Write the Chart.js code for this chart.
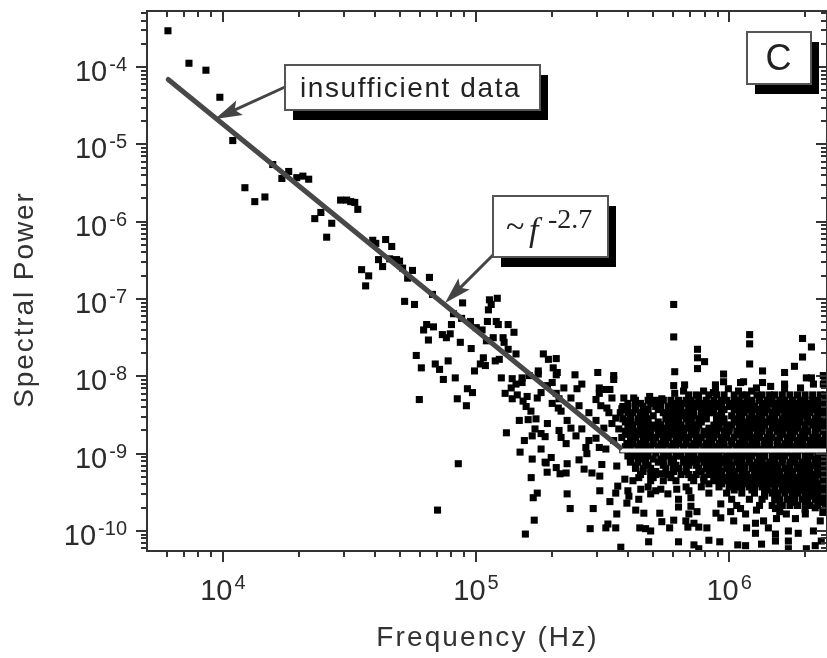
<!DOCTYPE html>
<html><head><meta charset="utf-8">
<style>html,body{margin:0;padding:0;background:#fff;overflow:hidden}canvas{display:block;filter:blur(0.4px)}</style>
<script src="https://cdn.jsdelivr.net/npm/chart.js@4"></script></head>
<body><canvas id="c" width="827" height="658"></canvas>
<script>
// All values are log10(frequency in Hz), log10(spectral power).
const slopeRegion=[[3.783,-3.53],[3.866,-3.95],[3.933,-4.04],[3.988,-4.39],[4.039,-4.95],[4.197,-5.26],[4.260,-5.35],[4.233,-5.44],[4.292,-5.43],[4.316,-5.41],[4.339,-5.45],[4.087,-5.56],[4.166,-5.68],[4.126,-5.74],[4.465,-5.72],[4.489,-5.72],[4.505,-5.74],[4.521,-5.75],[4.533,-5.84],[4.387,-5.88],[4.363,-5.96],[4.430,-6.02],[4.410,-6.20],[4.643,-6.23],[4.592,-6.24],[4.604,-6.28],[4.667,-6.32],[4.615,-6.49],[4.631,-6.58],[4.659,-6.48],[4.686,-6.49],[4.698,-6.51],[4.710,-6.60],[4.749,-6.63],[4.548,-6.62],[4.576,-6.70],[4.564,-6.83],[4.730,-6.73],[4.816,-6.72],[4.828,-6.94],[4.718,-7.03],[4.757,-7.07],[4.947,-7.05],[5.053,-7.01],[5.084,-6.99],[5.060,-7.07],[5.049,-7.14],[4.805,-7.33],[4.832,-7.36],[4.793,-7.40],[4.903,-7.33],[4.911,-7.19],[4.943,-7.25],[4.978,-7.29],[5.045,-7.29],[5.080,-7.29],[5.088,-7.33],[5.127,-7.33],[5.001,-7.37],[5.024,-7.40],[5.150,-7.43],[4.867,-7.46],[4.898,-7.45],[4.883,-7.50],[4.812,-7.53],[4.938,-7.56],[5.068,-7.50],[5.107,-7.50],[5.111,-7.56],[5.041,-7.54],[4.981,-7.64],[5.127,-7.65],[5.158,-7.71],[4.764,-7.73],[5.029,-7.76],[4.890,-7.80],[4.839,-7.84],[5.092,-7.78],[5.076,-7.80],[5.017,-7.84],[5.037,-7.86],[4.784,-7.89],[4.856,-7.91],[4.994,-7.93],[5.266,-7.71],[5.286,-7.78],[5.317,-7.77],[5.246,-7.93],[5.305,-7.89],[5.321,-7.95],[5.100,-8.02],[4.871,-8.04],[4.918,-8.02],[5.143,-8.03],[5.182,-8.02],[5.210,-7.99],[5.182,-8.08],[5.158,-8.10],[5.139,-8.15],[4.966,-8.16],[4.986,-8.21],[5.115,-8.22],[5.163,-8.24],[5.202,-8.26],[5.257,-8.21],[5.242,-8.28],[5.301,-8.08],[5.282,-8.12],[5.317,-8.22],[5.143,-8.29],[5.186,-8.32],[4.776,-8.30],[4.926,-8.29],[4.962,-8.38],[5.198,-8.39],[5.217,-8.45],[5.301,-8.35],[5.325,-8.41],[5.171,-8.57],[5.206,-8.56],[5.237,-8.55],[5.282,-8.61],[5.233,-8.68]];
const upperOutliers=[[5.781,-7.07],[5.781,-7.49],[5.875,-7.65],[5.875,-7.76],[5.903,-7.81],[5.875,-7.90],[5.785,-7.94],[6.081,-7.46],[6.081,-7.58],[6.081,-7.84],[6.132,-7.93],[6.290,-7.51],[6.325,-7.62],[6.290,-7.75],[6.258,-7.87],[6.219,-7.95],[6.372,-7.99],[5.978,-7.97],[5.978,-8.07],[6.219,-8.10],[6.219,-8.16],[6.057,-8.07],[6.045,-8.08],[6.132,-8.08],[6.164,-8.13],[6.108,-8.15],[6.305,-8.02],[6.325,-8.02],[5.946,-8.11],[5.946,-8.16],[5.824,-8.11],[5.820,-8.19],[5.781,-8.12],[5.785,-8.22],[5.481,-7.95],[5.544,-7.99],[5.544,-8.04],[5.391,-7.98],[5.246,-7.97],[5.317,-7.98],[5.418,-8.10],[5.399,-8.16],[5.347,-8.15],[5.487,-8.15],[5.513,-8.17],[5.529,-8.17],[5.487,-8.22],[5.537,-8.28],[5.474,-8.30],[5.584,-8.28],[5.623,-8.28],[5.686,-8.26],[5.734,-8.29],[5.899,-8.19],[5.879,-8.25],[5.938,-8.21],[5.997,-8.16],[6.037,-8.19],[6.089,-8.19],[6.282,-8.15],[6.333,-8.10],[6.372,-8.10]];
const transition=[[5.120,-8.73],[5.222,-8.77],[5.257,-8.74],[5.273,-8.78],[5.191,-8.83],[5.174,-8.98],[5.257,-8.94],[5.222,-9.07],[5.297,-9.05],[5.273,-9.11],[5.317,-9.18],[5.281,-9.24],[5.360,-9.13],[5.356,-9.25],[5.332,-9.26],[5.218,-9.31],[5.407,-9.08],[5.427,-9.20],[5.458,-9.25],[5.489,-9.29],[5.497,-9.14],[5.438,-9.00],[5.556,-9.16],[5.588,-9.33],[5.643,-9.31],[5.690,-9.27],[5.733,-9.26],[5.336,-8.79],[5.356,-8.87],[5.328,-8.70],[5.360,-8.57],[5.375,-8.67],[5.395,-8.77],[5.418,-8.68],[5.446,-8.83],[5.434,-8.92],[5.474,-8.80],[5.487,-8.92],[5.513,-8.94],[5.505,-8.67],[5.474,-8.57],[5.446,-8.47],[5.407,-8.38],[5.375,-8.28],[5.328,-8.29],[5.336,-8.45],[5.525,-8.47],[5.493,-8.38],[5.517,-8.41],[5.537,-8.61],[5.552,-8.54],[5.576,-8.42],[5.596,-8.57],[5.564,-8.68],[5.576,-8.79],[5.596,-8.87],[5.544,-8.83]];
const lowerPoints=[[4.930,-9.13],[4.848,-9.73],[5.277,-9.12],[5.242,-9.51],[5.226,-9.57],[5.230,-9.86],[5.195,-10.04],[5.360,-9.52],[5.372,-9.71],[5.463,-9.71],[5.451,-9.97],[5.513,-9.96],[5.521,-9.91],[5.552,-9.96],[5.556,-9.78],[5.529,-9.62],[5.489,-9.48],[5.552,-9.51],[5.560,-9.42],[5.572,-10.21],[5.647,-9.96],[5.670,-9.97],[5.690,-10.00],[5.682,-10.14],[5.800,-10.14],[5.765,-9.96],[5.734,-9.88],[5.726,-9.77],[5.663,-9.77],[5.631,-9.73],[5.596,-9.64],[5.604,-9.55],[5.643,-9.59],[5.600,-9.48],[5.651,-9.46],[5.690,-9.52],[5.710,-9.48],[5.730,-9.46],[5.758,-9.52],[5.793,-9.46],[5.841,-9.48],[5.849,-9.57],[5.800,-9.59],[5.800,-9.69],[5.849,-9.68],[5.873,-9.75],[5.841,-9.78],[5.781,-9.86],[5.829,-9.87],[5.861,-9.90],[5.837,-9.95],[5.880,-9.95],[5.912,-9.96],[5.861,-10.18],[5.880,-10.23],[5.920,-10.12],[5.963,-10.14],[6.034,-10.18],[6.065,-10.19],[6.128,-10.17],[6.183,-10.13],[6.069,-9.96],[6.018,-9.87],[5.967,-9.83],[5.948,-9.77],[5.967,-9.65],[6.006,-9.75],[6.045,-9.71],[6.065,-9.78],[6.108,-9.73],[6.104,-9.90],[6.136,-9.87],[6.104,-10.03],[6.155,-9.96],[6.183,-10.04],[6.234,-10.00],[6.273,-10.03],[6.234,-10.13],[6.234,-10.23],[6.305,-10.23],[6.340,-10.19],[6.364,-10.13],[6.333,-10.00],[6.360,-9.87],[6.183,-9.71],[6.187,-9.84],[6.226,-9.78],[6.262,-9.84],[6.301,-9.78],[6.340,-9.70],[6.20,-9.75],[6.30,-9.72],[6.37,-9.76]];
// Dense cloud: power per row and the frequencies visible in that row.
const denseRowPower=[-8.24,-8.31,-8.39,-8.47,-8.55,-8.63,-8.71,-8.79,-8.87,-8.95,-9.03,-9.11,-9.19,-9.27,-9.35,-9.43,-9.51,-9.59,-9.67];
const denseRowFreq=[
[5.84,5.87,5.92,5.95,5.98,6.02,6.05,6.07,6.11,6.13,6.16,6.18,6.21,6.24,6.27,6.30,6.33,6.36,6.38],
[5.63,5.68,5.71,5.74,5.77,5.80,5.83,5.85,5.88,5.91,5.94,5.97,5.99,6.02,6.04,6.07,6.09,6.12,6.15,6.17,6.20,6.22,6.25,6.28,6.30,6.33,6.35,6.38],
[5.58,5.60,5.63,5.66,5.71,5.73,5.76,5.79,5.81,5.84,5.87,5.89,5.92,5.95,5.97,6.00,6.03,6.05,6.08,6.10,6.13,6.15,6.18,6.21,6.23,6.26,6.29,6.31,6.34,6.36,6.39],
[5.57,5.60,5.62,5.65,5.67,5.74,5.76,5.79,5.82,5.84,5.86,5.89,5.92,5.94,5.97,6.04,6.06,6.09,6.12,6.14,6.17,6.19,6.22,6.24,6.27,6.30,6.32,6.35,6.37],
[5.58,5.61,5.64,5.66,5.68,5.75,5.78,5.80,5.83,5.85,5.88,5.91,5.95,5.98,6.03,6.05,6.08,6.10,6.13,6.16,6.18,6.21,6.23,6.26,6.28,6.31,6.34,6.36,6.39],
[5.60,5.62,5.65,5.68,5.70,5.73,5.76,5.78,5.81,5.84,5.86,5.88,5.94,5.96,5.99,6.01,6.04,6.07,6.09,6.12,6.14,6.17,6.20,6.22,6.25,6.27,6.30,6.33,6.35,6.38],
[5.59,5.62,5.64,5.67,5.69,5.72,5.75,5.77,5.80,5.82,5.85,5.87,5.90,5.93,5.95,5.98,6.00,6.03,6.06,6.08,6.11,6.13,6.16,6.19,6.21,6.24,6.26,6.29,6.31,6.34,6.37,6.39],
[5.61,5.63,5.66,5.69,5.71,5.74,5.76,5.79,5.81,5.84,5.87,5.89,5.92,5.94,5.97,5.99,6.02,6.05,6.07,6.10,6.12,6.15,6.17,6.20,6.23,6.25,6.28,6.30,6.33,6.35,6.38],
[5.60,5.62,5.65,5.67,5.70,5.73,5.75,5.78,5.80,5.83,5.86,5.88,5.91,5.93,5.96,5.98,6.01,6.04,6.06,6.09,6.11,6.14,6.16,6.19,6.22,6.24,6.27,6.29,6.32,6.34,6.37,6.39],
[5.58,5.61,5.64,5.66,5.69,5.72,5.74,5.77,5.79,5.82,5.85,5.87,5.90,5.92,5.95,5.97,6.00,6.03,6.05,6.08,6.10,6.13,6.15,6.18,6.21,6.23,6.26,6.28,6.31,6.33,6.36,6.38],
[5.60,5.63,5.65,5.68,5.74,5.76,5.79,5.81,5.84,5.86,5.89,5.91,5.94,5.96,5.99,6.02,6.04,6.07,6.09,6.12,6.14,6.17,6.20,6.22,6.25,6.27,6.30,6.32,6.35,6.37],
[5.61,5.64,5.67,5.72,5.74,5.77,5.82,5.85,5.87,5.90,5.93,5.95,5.98,6.00,6.03,6.05,6.08,6.11,6.13,6.16,6.18,6.21,6.24,6.26,6.29,6.31,6.34,6.36,6.39],
[5.63,5.66,5.69,5.75,5.78,5.80,5.83,5.88,5.91,5.94,5.96,5.99,6.01,6.04,6.06,6.09,6.12,6.14,6.17,6.19,6.22,6.24,6.27,6.30,6.32,6.35,6.37],
[5.65,5.71,5.76,5.81,5.84,5.87,5.92,5.95,5.97,6.00,6.02,6.05,6.07,6.10,6.13,6.15,6.18,6.20,6.23,6.25,6.28,6.31,6.33,6.36,6.38],
[5.62,5.69,5.74,5.79,5.86,5.90,5.94,5.96,5.99,6.01,6.04,6.06,6.09,6.11,6.14,6.16,6.19,6.22,6.24,6.27,6.29,6.32,6.34,6.37,6.39],
[5.68,5.83,5.89,5.96,6.00,6.03,6.05,6.08,6.10,6.13,6.15,6.18,6.21,6.23,6.26,6.28,6.31,6.33,6.36,6.38],
[5.92,5.99,6.05,6.10,6.14,6.17,6.19,6.22,6.25,6.27,6.30,6.32,6.35,6.37],
[6.01,6.08,6.13,6.18,6.20,6.23,6.26,6.29,6.31,6.34,6.36,6.39],
[6.03,6.12,6.17,6.21,6.24,6.27,6.32,6.35,6.38]];
const fillRowPower=[-8.35,-8.43,-8.51,-8.59,-8.67,-8.75,-8.83,-8.91,-8.99,-9.07,-9.15,-9.23,-9.31,-9.39,-9.47,-9.55,-9.63];
const fillRowFreq=[
[5.60,5.65,5.69,5.72,5.78,5.82,5.86,5.90,5.93,5.96,6.01,6.06,6.09,6.14,6.16,6.19,6.24,6.27,6.32,6.37],
[5.59,5.63,5.68,5.72,5.77,5.80,5.85,5.90,5.93,5.98,6.02,6.07,6.11,6.15,6.20,6.25,6.28,6.33,6.38],
[5.61,5.65,5.70,5.77,5.81,5.86,5.90,5.96,6.01,6.04,6.09,6.12,6.17,6.22,6.25,6.29,6.35],
[5.59,5.64,5.67,5.72,5.76,5.80,5.85,5.89,5.97,6.02,6.06,6.11,6.15,6.19,6.24,6.28,6.32,6.37],
[5.61,5.66,5.71,5.74,5.79,5.83,5.87,5.92,5.96,6.00,6.05,6.10,6.13,6.18,6.23,6.27,6.30,6.36],
[5.60,5.65,5.68,5.73,5.78,5.82,5.86,5.91,5.95,5.99,6.04,6.08,6.12,6.16,6.21,6.25,6.29,6.34,6.38],
[5.62,5.67,5.70,5.75,5.80,5.83,5.88,5.93,5.97,6.01,6.06,6.09,6.14,6.19,6.24,6.27,6.32,6.36],
[5.59,5.64,5.68,5.72,5.77,5.82,5.85,5.90,5.94,5.98,6.03,6.07,6.11,6.16,6.20,6.25,6.30,6.35,6.38],
[5.62,5.67,5.71,5.75,5.80,5.84,5.89,5.93,5.96,6.01,6.06,6.10,6.14,6.19,6.23,6.27,6.32,6.36],
[5.61,5.66,5.70,5.73,5.78,5.83,5.88,5.92,5.97,6.00,6.05,6.08,6.13,6.18,6.21,6.26,6.31,6.34,6.38],
[5.63,5.68,5.74,5.79,5.84,5.87,5.92,5.96,6.01,6.06,6.10,6.15,6.19,6.24,6.28,6.33,6.37],
[5.66,5.71,5.78,5.83,5.89,5.93,5.97,6.02,6.06,6.11,6.16,6.20,6.25,6.29,6.35],
[5.70,5.77,5.85,5.90,5.94,5.98,6.03,6.08,6.12,6.17,6.21,6.26,6.30,6.34,6.38],
[5.92,5.97,6.02,6.07,6.12,6.17,6.20,6.25,6.30,6.35,6.39],
[6.02,6.09,6.15,6.21,6.24,6.29,6.34,6.37],
[6.14,6.19,6.25,6.30,6.33,6.38],
[6.20,6.25,6.30,6.37]];
const fitLine=[[3.784,-4.16],[5.570,-8.924]];
const plateauLine=[[5.570,-8.96],[6.40,-8.96]];
const xLabelExps=[4,5,6];
const yLabelExps=[-4,-5,-6,-7,-8,-9,-10];
const xLimits=[3.7002,6.3866];
const yLimits=[-10.259,-3.2743];
const xTitle='Frequency (Hz)';
const yTitle='Spectral Power';

const toPt=p=>({x:Math.pow(10,p[0]),y:Math.pow(10,p[1])});
const scatter=[...slopeRegion,...upperOutliers,...transition,...lowerPoints].map(toPt);
denseRowFreq.forEach((row,i)=>row.forEach(f=>scatter.push(toPt([f,denseRowPower[i]]))));
fillRowFreq.forEach((row,i)=>row.forEach(f=>scatter.push(toPt([f,fillRowPower[i]]))));

function logTicks(lo,hi){const out=[];for(let d=Math.floor(lo);d<=Math.ceil(hi);d++)for(let m=1;m<10;m++){const v=m*Math.pow(10,d);const l=Math.log10(v);if(l>=lo&&l<=hi)out.push({value:v,major:m===1,exp:d});}return out;}

function box(ctx,x,y,w,h,dx,dy){
  ctx.fillStyle='#000';ctx.fillRect(x+dx,y+dy,w,h);
  ctx.fillStyle='#fff';ctx.fillRect(x,y,w,h);
  ctx.strokeStyle='#555';ctx.lineWidth=2;ctx.strokeRect(x,y,w,h);
}
function arrow(ctx,x0,y0,x1,y1,len,half){
  const a=Math.atan2(y1-y0,x1-x0),c=Math.cos(a),s=Math.sin(a);
  ctx.strokeStyle='#444';ctx.fillStyle='#444';ctx.lineWidth=3;
  ctx.beginPath();ctx.moveTo(x0,y0);ctx.lineTo(x1-c*len*.7,y1-s*len*.7);ctx.stroke();
  ctx.beginPath();ctx.moveTo(x1,y1);ctx.lineTo(x1-c*len-s*half,y1-s*len+c*half);
  ctx.lineTo(x1-c*len*.8,y1-s*len*.8);ctx.lineTo(x1-c*len+s*half,y1-s*len-c*half);ctx.closePath();ctx.fill();
}
function spaced(ctx,text,x,y,sp,align){ctx.letterSpacing=sp+'px';ctx.textAlign=align;ctx.textBaseline='alphabetic';ctx.fillText(text,x,y);ctx.letterSpacing='0px';}

const frame={id:'frame',afterDatasetsDraw(chart){
  const {ctx,chartArea:a,scales:{x,y}}=chart;
  ctx.save();
  ctx.strokeStyle='#333';ctx.lineWidth=2;ctx.strokeRect(a.left,a.top,a.right-a.left,a.bottom-a.top);
  ctx.lineWidth=2;ctx.beginPath();
  logTicks(xLimits[0],xLimits[1]).forEach(t=>{const p=Math.round(x.getPixelForValue(t.value));const l=t.major?11:6;
    ctx.moveTo(p,a.bottom);ctx.lineTo(p,a.bottom+l);ctx.moveTo(p,a.top);ctx.lineTo(p,a.top+l);});
  logTicks(yLimits[0],yLimits[1]).forEach(t=>{const p=Math.round(y.getPixelForValue(t.value));const l=t.major?11:6;
    ctx.moveTo(a.left,p);ctx.lineTo(a.left-l,p);ctx.moveTo(a.right,p);ctx.lineTo(a.right-l,p);});
  ctx.stroke();
  ctx.fillStyle='#2b2b2b';ctx.textBaseline='alphabetic';
  yLabelExps.forEach(e=>{const p=y.getPixelForValue(Math.pow(10,e));
    ctx.font='20px "Liberation Sans"';const sup=String(e);const sw=ctx.measureText(sup).width;
    ctx.textAlign='right';ctx.fillText(sup,127,p+4);
    ctx.font='29px "Liberation Sans"';ctx.fillText('10',127-sw-2,p+14);});
  xLabelExps.forEach(e=>{const p=x.getPixelForValue(Math.pow(10,e));
    ctx.font='29px "Liberation Sans"';const w=ctx.measureText('10').width;
    ctx.font='20px "Liberation Sans"';const sup=String(e);const sw=ctx.measureText(sup).width;
    const left=p-(w+sw+2)/2;ctx.textAlign='left';ctx.fillText(sup,left+w+2,589);
    ctx.font='29px "Liberation Sans"';ctx.fillText('10',left,600);});
  ctx.font='28px "Liberation Sans"';ctx.fillStyle='#333';
  spaced(ctx,xTitle,487.5,646,2.1,'center');
  ctx.save();ctx.translate(33,299.5);ctx.rotate(-Math.PI/2);spaced(ctx,yTitle,0,0,1.9,'center');ctx.restore();

  arrow(ctx,285,87,215,119,27,8);
  arrow(ctx,493,255,445,303,27,8);
  box(ctx,285,65,255,45,8,10);
  box(ctx,493,196,115,61,8,10);
  box(ctx,747,32,64,52,8,10);
  ctx.fillStyle='#222';
  ctx.font='28px "Liberation Sans"';spaced(ctx,'insufficient data',300,97,1.6,'left');
  ctx.font='36px "Liberation Sans"';spaced(ctx,'C',778.5,70,0,'center');
  ctx.font='34px "Liberation Serif"';spaced(ctx,'~',506,237,0,'left');
  ctx.font='italic 34px "Liberation Serif"';spaced(ctx,'f',529,241,0,'left');
  ctx.font='28px "Liberation Serif"';spaced(ctx,'-2.7',548,228,0,'left');
  ctx.restore();
}};

new Chart(document.getElementById('c'),{
  type:'scatter',
  data:{datasets:[
    {label:'Fit',data:fitLine.map(toPt),showLine:true,pointRadius:0,borderColor:'#484848',borderWidth:5,borderCapStyle:'round',fill:false},
    {label:'Plateau',data:plateauLine.map(toPt),showLine:true,pointRadius:0,borderColor:'#f6f6f6',borderWidth:4,fill:false},
    {label:'Spectral power',data:scatter,pointStyle:'rect',pointRadius:5,pointHoverRadius:5,backgroundColor:'#000',borderColor:'#000',borderWidth:0,order:1}
  ]},
  options:{
    responsive:false,animation:false,devicePixelRatio:1,
    layout:{autoPadding:false,padding:{left:147,top:11,right:-1,bottom:107}},
    plugins:{legend:{display:false},tooltip:{enabled:false}},
    scales:{
      x:{type:'logarithmic',min:Math.pow(10,xLimits[0]),max:Math.pow(10,xLimits[1]),
        ticks:{display:false},grid:{display:false,drawTicks:false},border:{display:false}},
      y:{type:'logarithmic',min:Math.pow(10,yLimits[0]),max:Math.pow(10,yLimits[1]),
        ticks:{display:false},grid:{display:false,drawTicks:false},border:{display:false}}
    }
  },
  plugins:[frame]
});
</script></body></html>
